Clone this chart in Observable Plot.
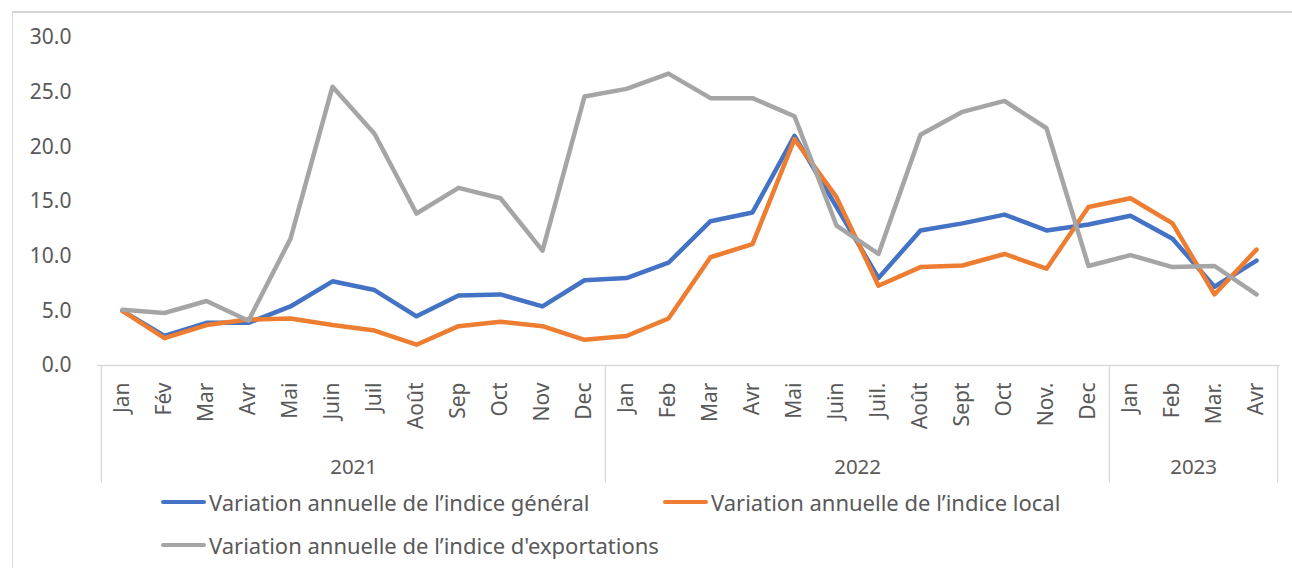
<!DOCTYPE html>
<html>
<head>
<meta charset="utf-8">
<script src="https://cdn.jsdelivr.net/npm/d3@7"></script>
<script src="https://cdn.jsdelivr.net/npm/@observablehq/plot@0.6"></script>
<style>
  html, body { margin: 0; padding: 0; background: #fff; overflow: hidden; }
  #wrap { position: relative; width: 1292px; height: 568px; font-family: "Noto Sans", sans-serif; }
  #frame { position: absolute; left: 12px; top: 11px; width: 1400px; height: 700px;
           border-left: 1px solid #d9d9d9; border-top: 2px solid #d6d6d6; box-sizing: border-box; }
  #chart { position: absolute; left: 0; top: 0; }
  .leg { position: absolute; display: flex; align-items: center; font-size: 22px; color: #595959; white-space: nowrap; line-height: 1; }
  .sw { display: inline-block; width: 45px; height: 4px; border-radius: 2px; margin-right: 3px; }
</style>
</head>
<body>
<div id="wrap">
  <div id="frame"></div>
  <div id="chart"></div>
</div>
<script>
const months = ["Jan","Fév","Mar","Avr","Mai","Juin","Juil","Août","Sep","Oct","Nov","Dec",
                "Jan","Feb","Mar","Avr","Mai","Juin","Juil.","Août","Sept","Oct","Nov.","Dec",
                "Jan","Feb","Mar.","Avr"];
const years = [2021,2021,2021,2021,2021,2021,2021,2021,2021,2021,2021,2021,
               2022,2022,2022,2022,2022,2022,2022,2022,2022,2022,2022,2022,
               2023,2023,2023,2023];
const general = [5.0, 2.7, 3.9, 3.9, 5.4, 7.7, 6.9, 4.5, 6.4, 6.5, 5.4, 7.8,
                 8.0, 9.4, 13.2, 14.0, 21.0, 14.5, 8.0, 12.35, 13.0, 13.8, 12.35, 12.9,
                 13.7, 11.6, 7.2, 9.6];
const local = [5.0, 2.5, 3.7, 4.2, 4.3, 3.7, 3.2, 1.9, 3.6, 4.0, 3.6, 2.35,
               2.7, 4.3, 9.9, 11.1, 20.7, 15.4, 7.3, 9.0, 9.15, 10.2, 8.85, 14.5,
               15.3, 13.0, 6.5, 10.6];
const exportations = [5.1, 4.8, 5.9, 4.1, 11.6, 25.5, 21.2, 13.9, 16.25, 15.3, 10.5, 24.6,
                      25.3, 26.7, 24.45, 24.45, 22.8, 12.8, 10.2, 21.1, 23.2, 24.2, 21.7, 9.1,
                      10.1, 9.0, 9.1, 6.5];
const yTicks = [0, 5, 10, 15, 20, 25, 30];
const seriesNames = ["Variation annuelle de l\u2019indice général",
                     "Variation annuelle de l\u2019indice local",
                     "Variation annuelle de l\u2019indice d'exportations"];
const seriesColors = ["#4472C4", "#ED7D31", "#A5A5A5"];

const keys = months.map((m, i) => `${years[i]}-${i}`);
const yearList = Array.from(new Set(years));
const rows = keys.map((k, i) => ({key: k, month: months[i], year: years[i],
  s0: general[i], s1: local[i], s2: exportations[i]}));

const W = 1292, H = 568, ML = 97, MR = 12, MT = 37, MB = 203;
const step = (W - ML - MR) / keys.length;
const firstOfYear = yearList.map(y => keys[years.indexOf(y)]);
const lastOfYear = yearList.map(y => keys[years.lastIndexOf(y)]);
const midKeyOfYear = yearList.map(y => {
  const a = years.indexOf(y), b = years.lastIndexOf(y);
  return keys[Math.floor((a + b) / 2)];
});
const midIsHalf = yearList.map(y => {
  const a = years.indexOf(y), b = years.lastIndexOf(y);
  return (a + b) % 2 === 1;
});
const yearRows = yearList.map((y, i) => ({year: String(y), key: midKeyOfYear[i], half: midIsHalf[i]}));

const gridColor = "#d9d9d9";
const plot = Plot.plot({
  width: W, height: H,
  marginLeft: ML, marginRight: MR, marginTop: MT, marginBottom: MB,
  style: {fontFamily: "'Noto Sans', sans-serif", color: "#595959", background: "transparent", overflow: "visible"},
  x: {type: "point", domain: keys, padding: 0.5, axis: null},
  y: {domain: [0, 30], axis: null},
  marks: [
    Plot.axisY({ticks: yTicks, tickSize: 0, tickPadding: 26, tickFormat: d => d.toFixed(1),
                fontSize: 21, label: null, fill: "#595959"}),
    Plot.ruleY([0], {stroke: gridColor, strokeWidth: 1.3}),
    Plot.ruleX(firstOfYear, {x: d => d, dx: -step / 2, insetTop: H - MT - MB, insetBottom: -118,
                              stroke: gridColor, strokeWidth: 1.3}),
    Plot.ruleX(lastOfYear.slice(-1), {x: d => d, dx: step / 2, insetTop: H - MT - MB, insetBottom: -118,
                              stroke: gridColor, strokeWidth: 1.3}),
    Plot.text(rows, {x: "key", text: "month", frameAnchor: "bottom", dy: 17, rotate: -90,
                     textAnchor: "end", lineAnchor: "middle", fontSize: 21, fill: "#595959"}),
    Plot.text(yearRows.filter(d => d.half), {x: "key", text: "year", frameAnchor: "bottom", dy: 101.5,
                     dx: step / 2, lineAnchor: "middle", fontSize: 20.5, fill: "#595959"}),
    Plot.text(yearRows.filter(d => !d.half), {x: "key", text: "year", frameAnchor: "bottom", dy: 101.5,
                     lineAnchor: "middle", fontSize: 20.5, fill: "#595959"}),
    Plot.line(rows, {x: "key", y: "s0", stroke: seriesColors[0], strokeWidth: 4.5,
                     strokeLinejoin: "round", strokeLinecap: "round"}),
    Plot.line(rows, {x: "key", y: "s1", stroke: seriesColors[1], strokeWidth: 4.5,
                     strokeLinejoin: "round", strokeLinecap: "round"}),
    Plot.line(rows, {x: "key", y: "s2", stroke: seriesColors[2], strokeWidth: 4.5,
                     strokeLinejoin: "round", strokeLinecap: "round"})
  ]
});
document.getElementById("chart").appendChild(plot);

const legendPos = [{left: 161, top: 502}, {left: 663, top: 502}, {left: 161, top: 545}];
const wrap = document.getElementById("wrap");
seriesNames.forEach((name, i) => {
  const d = document.createElement("div");
  d.className = "leg";
  d.style.left = legendPos[i].left + "px";
  d.style.top = (legendPos[i].top - 12) + "px";
  d.style.height = "24px";
  const sw = document.createElement("span");
  sw.className = "sw";
  sw.style.background = seriesColors[i];
  const t = document.createElement("span");
  t.textContent = name;
  d.appendChild(sw);
  d.appendChild(t);
  wrap.appendChild(d);
});
</script>
</body>
</html>
